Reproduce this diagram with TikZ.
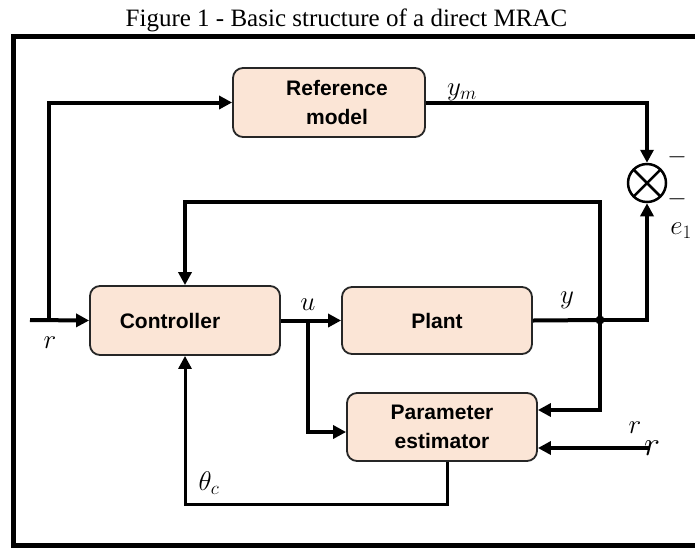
\RequirePackage{fix-cm}
\documentclass[tikz,border=0pt]{standalone}
\usepackage{fontspec}
\setmainfont{Liberation Serif}
\newfontfamily\boxfont{Liberation Sans}
\usetikzlibrary{arrows.meta,calc}
\definecolor{peach}{HTML}{FBE5D6}
\definecolor{boxline}{HTML}{262626}
\begin{document}
\begin{tikzpicture}[x=1pt,y=-1pt,
  blk/.style={draw=boxline, line width=1.8pt, fill=peach, rounded corners=10pt, inner sep=0pt,
    font=\boxfont\bfseries\fontsize{21}{29}\selectfont, align=center},
  conn/.style={line width=4pt, -{Triangle[length=13pt,width=13pt]}},
  wire/.style={line width=4pt},
  lbl/.style={inner sep=0pt, anchor=base, font=\fontsize{27}{27}\selectfont},
  minus/.style={inner sep=0pt, font=\fontsize{25}{25}\selectfont},
]
\useasboundingbox (0,0) rectangle (695,547);
\begin{scope}
  \clip (0,0) rectangle (695,547);
  \draw[line width=5pt] (13.5,36) rectangle (710,545);
\end{scope}

\node[anchor=base, inner sep=0pt, font=\fontsize{25}{25}\selectfont] (title) at (346.5,26) {Figure 1 - Basic structure of a direct MRAC};

\node[blk, minimum width=192pt, minimum height=69pt] (ref) at (329,102.5) {\hspace*{16pt}Reference\\\hspace*{16pt}model};
\node[blk, minimum width=190pt, minimum height=69pt] (ctrl) at (185,320.5) {Controller\hspace*{30pt}};
\node[blk, minimum width=190pt, minimum height=67pt] (plant) at (437,320.5) {Plant};
\node[blk, minimum width=190pt, minimum height=68pt] (est) at (442,427) {Parameter\\estimator};

\node[circle, draw, line width=2.5pt, minimum size=38pt, inner sep=0pt,
  path picture={\draw[line width=2.5pt] (path picture bounding box.north west)--(path picture bounding box.south east)
  (path picture bounding box.north east)--(path picture bounding box.south west);}] (sum) at (647,183) {};

\node[circle, fill, inner sep=0pt, minimum size=9pt] (ydot) at (600,320) {};
\coordinate (rin) at (30,320);
\coordinate (rbr) at (49,320);
\coordinate (ub) at (308,320);
\coordinate (fbtop) at (600,202);
\coordinate (rin2) at (650,448);
\coordinate (thc) at (447,504);

\draw[conn] (rin) -- (ctrl.west);
\draw[conn] (rbr) |- (ref.west);
\draw[conn] (ref.east) -| (sum.north);
\draw[conn] (ctrl.east) -- (plant.west);
\draw[conn] (ub) |- ($(est.west)+(0,5)$);
\draw[wire] (plant.east) -- (ydot.center);
\draw[conn] (ydot.center) -| (sum.south);
\draw[conn] (ydot.center) -- (fbtop) -| (ctrl.north);
\draw[conn] (ydot.center) |- ($(est.east)+(0,-17)$);
\draw[conn] (rin2) -- ($(est.east)+(0,21)$);
\draw[line width=3pt, -{Triangle[length=13pt,width=13pt]}] (est.south -| thc) -- (thc) -| (ctrl.south);

\node[lbl] (lr) at (50,348) {$r$};
\node[lbl] (lu) at (308,310) {$u$};
\node[lbl] (ly) at (567,303) {$y$};
\node[lbl] (lym) at (462,95) {$y_m$};
\node[lbl] (le1) at (681,234) {$e_1$};
\node[lbl] (lth) at (209,490) {$\theta_c$};
\node[lbl] (lr2) at (635,433) {$r$};
\node[lbl, font=\fontsize{34}{34}\selectfont] (lr3) at (652,455) {$r$};
\node[minus] (m1) at (677,157) {$-$};
\node[minus] (m2) at (677,199) {$-$};
\end{tikzpicture}
\end{document}
